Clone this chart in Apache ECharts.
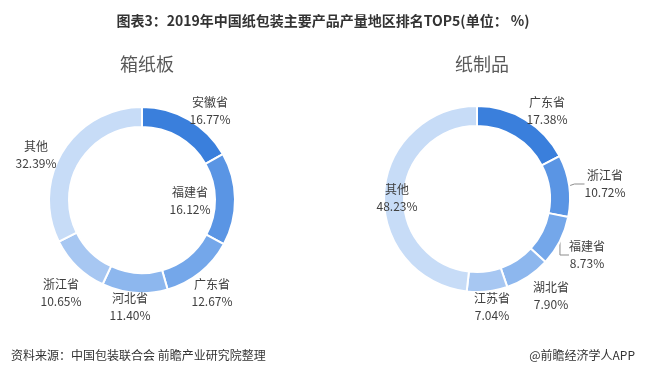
<!DOCTYPE html>
<html><head><meta charset="utf-8">
<script src="https://cdn.jsdelivr.net/npm/echarts@6/dist/echarts.min.js"></script>
<style>html,body{margin:0;padding:0;background:#fff}#c{width:646px;height:376px}</style>
</head><body><div id="c"></div>
<script>
// ---- data ----
const titleText = '图表3：2019年中国纸包装主要产品产量地区排名TOP5(单位： %)';
const leftTitle = '箱纸板';
const rightTitle = '纸制品';
const leftNames = ['安徽省', '福建省', '广东省', '河北省', '浙江省', '其他'];
const leftValues = [16.77, 16.12, 12.67, 11.40, 10.65, 32.39];
const rightNames = ['广东省', '浙江省', '福建省', '湖北省', '江苏省', '其他'];
const rightValues = [17.38, 10.72, 8.73, 7.90, 7.04, 48.23];
const sourceText = '资料来源：中国包装联合会 前瞻产业研究院整理';
const creditText = '@前瞻经济学人APP';

// ---- styles / layout ----
const palette = ['#3a7fdc', '#5a95e4', '#74a7ea', '#8db7ee', '#a7c7f2', '#c7dcf7'];
const FONT = '"Noto Sans CJK SC", "Noto Sans", sans-serif';
const leftLabelPos = [[210, 111], [190, 201], [212, 293], [130, 307], [61, 293], [36, 155]];
const rightLabelPos = [[547, 111], [605, 184], [587, 255], [551, 296], [492, 307], [397, 198]];
const rightLineShow = [false, true, true, false, false, false];

function buildData(names, values, lines) {
  return names.map((n, i) => ({
    name: n, value: values[i],
    itemStyle: { color: palette[i] },
    labelLine: { show: lines ? lines[i] : false }
  }));
}
function pieSeries(names, values, center, labelPos, lines) {
  return {
    type: 'pie',
    center: center,
    radius: [73, 93],
    startAngle: 90,
    clockwise: true,
    avoidLabelOverlap: false,
    animation: false,
    itemStyle: { borderColor: '#fff', borderWidth: 2 },
    label: {
      show: true,
      position: 'outside',
      formatter: p => p.name + '\n' + p.value.toFixed(2) + '%',
      fontFamily: FONT, fontSize: 12, color: '#404040',
      lineHeight: 17, align: 'center'
    },
    labelLine: { show: false, length: 6, length2: 10, lineStyle: { color: '#8c8c8c', width: 1 } },
    labelLayout: p => ({ x: labelPos[p.dataIndex][0], y: labelPos[p.dataIndex][1], align: 'center', verticalAlign: 'middle' }),
    data: buildData(names, values, lines)
  };
}

const chart = echarts.init(document.getElementById('c'), null, { renderer: 'canvas' });
chart.setOption({
  backgroundColor: '#fff',
  title: [
    { text: titleText, left: 'center', top: 9,
      textStyle: { fontFamily: FONT, fontSize: 14, fontWeight: 'bold', color: '#333' } },
    { text: leftTitle, left: 142, top: 50, textAlign: 'center',
      textStyle: { fontFamily: FONT, fontSize: 18, fontWeight: 'normal', color: '#595959' } },
    { text: rightTitle, left: 477, top: 50, textAlign: 'center',
      textStyle: { fontFamily: FONT, fontSize: 18, fontWeight: 'normal', color: '#595959' } },
    { text: sourceText, left: 6, top: 344,
      textStyle: { fontFamily: FONT, fontSize: 12, fontWeight: 'normal', color: '#333' } },
    { text: creditText, right: 6, top: 344,
      textStyle: { fontFamily: FONT, fontSize: 12, fontWeight: 'normal', color: '#333' } }
  ],
  series: [
    pieSeries(leftNames, leftValues, [142, 200], leftLabelPos, null),
    pieSeries(rightNames, rightValues, [477, 199], rightLabelPos, rightLineShow)
  ]
});
</script></body></html>
